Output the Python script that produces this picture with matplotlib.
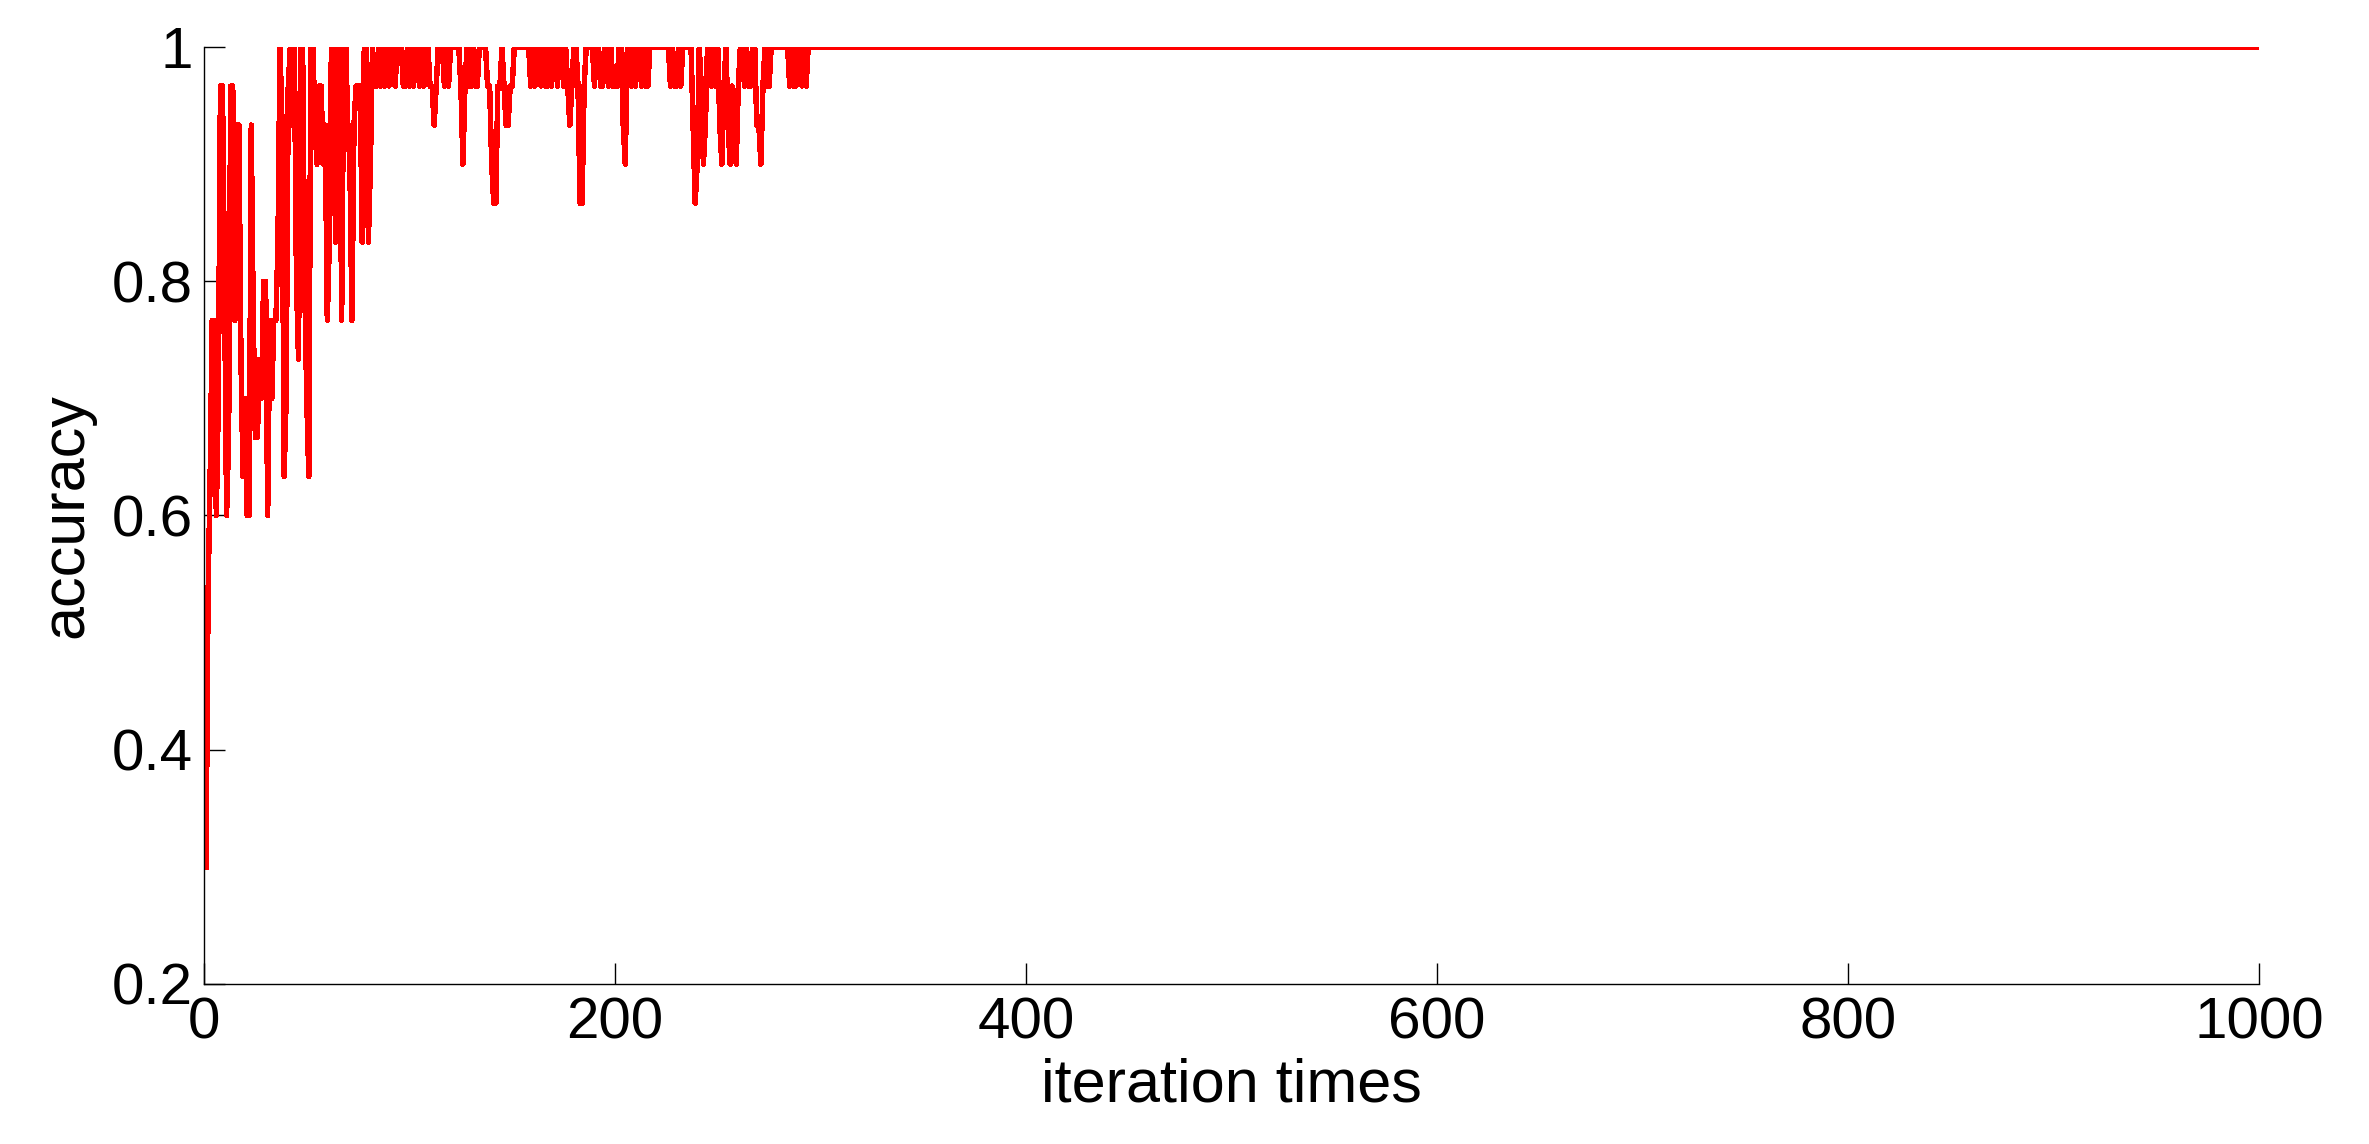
import numpy as np
import matplotlib
matplotlib.use("Agg")
import matplotlib.pyplot as plt

# accuracy per iteration, stored as correct answers out of 30 test samples
n_test = 30
correct_start = [
    9, 16, 19, 23, 23, 18, 21, 29, 29, 24,      # 1-10
    18, 20, 29, 29, 23, 28, 28, 22, 19, 21,     # 11-20
    18, 18, 28, 23, 20, 20, 22, 21, 24, 24,     # 21-30
    18, 23, 21, 23, 23, 25, 30, 28, 19, 21,     # 31-40
    29, 30, 28, 30, 24, 22, 30, 30, 24, 21,     # 41-50
    19, 30, 30, 28, 27, 29, 29, 27, 28, 23,     # 51-60
    25, 30, 30, 25, 30, 30, 23, 30, 30, 28,     # 61-70
    27, 23, 28, 29, 29, 29, 25, 30, 30, 25,     # 71-80
    27, 30, 29, 29, 30, 29, 30, 29, 30, 29,     # 81-90
    30, 30, 29, 30, 30, 30, 29, 29, 30, 29,     # 91-100
    30, 29, 30, 30, 29, 30, 29, 30, 30, 29,     # 101-110
    29, 28, 29, 30, 30, 30, 29, 30, 29, 30,     # 111-120
    30, 30, 30, 30, 29, 27, 29, 30, 29, 29,     # 121-130
    30, 29, 29, 30, 30, 30, 30, 29, 29, 27,     # 131-140
    26, 26, 29, 29, 30, 29, 28, 28, 29, 29,     # 141-150
    30, 30, 30, 30, 30, 30, 30, 30, 29, 30,     # 151-160
    29, 30, 30, 29, 30, 29, 29, 30, 29, 30,     # 161-170
    30, 29, 30, 30, 29, 30, 29, 28, 29, 30,     # 171-180
    30, 29, 26, 26, 29, 30, 30, 30, 30, 29,     # 181-190
    30, 30, 29, 29, 30, 30, 29, 30, 29, 29,     # 191-200
    29, 30, 30, 28, 27, 30, 30, 29, 30, 29,     # 201-210
    30, 30, 29, 30, 29, 29, 30, 30, 30, 30,     # 211-220
    30, 30, 30, 30, 30, 30, 29, 30, 29, 29,     # 221-230
    30, 29, 30, 30, 30, 30, 30, 28, 26, 27,     # 231-240
    30, 29, 27, 28, 30, 30, 29, 30, 29, 30,     # 241-250
    28, 27, 29, 30, 28, 27, 29, 28, 27, 29,     # 251-260
    30, 30, 29, 30, 29, 29, 30, 30, 28, 28,     # 261-270
    27, 29, 30, 29, 29, 30, 30, 30, 30, 30,     # 271-280
    30, 30, 30, 30, 29, 30, 29, 29, 30, 30,     # 281-290
    29, 30, 29, 30,                             # 291-294
]
n_iter = 1000
# after iteration 294 the accuracy stays at 30/30
correct_all = correct_start + [30] * (n_iter - len(correct_start))

iterations = np.arange(1, n_iter + 1)
accuracy = np.array(correct_all) / n_test

x_ticks = [0, 200, 400, 600, 800, 1000]
y_ticks = [0.2, 0.4, 0.6, 0.8, 1.0]
y_tick_labels = ["0.2", "0.4", "0.6", "0.8", "1"]

plt.rcParams['font.family'] = ['Liberation Sans', 'DejaVu Sans']

fig = plt.figure(figsize=(23.69, 11.44), dpi=100)
ax = fig.add_axes([0.0861, 0.1399, 0.8675, 0.819])

ax.plot(iterations, accuracy, color="#ff0000", linewidth=3.2, antialiased=False)

ax.set_xlim(0, 1000)
ax.set_ylim(0.2, 1.0)
ax.set_xticks(x_ticks)
ax.set_yticks(y_ticks)
ax.set_yticklabels(y_tick_labels)

ax.spines["top"].set_visible(False)
ax.spines["right"].set_visible(False)
ax.spines["left"].set_linewidth(1.0)
ax.spines["bottom"].set_linewidth(1.0)
ax.tick_params(direction="in", length=15, width=1.0, labelsize=42)
ax.tick_params(axis="x", pad=9)
ax.tick_params(axis="y", pad=8)

ax.set_xlabel("iteration times", fontsize=44, labelpad=5)
ax.set_ylabel("accuracy", fontsize=44, labelpad=12)

fig.savefig("out.png", dpi=100)
